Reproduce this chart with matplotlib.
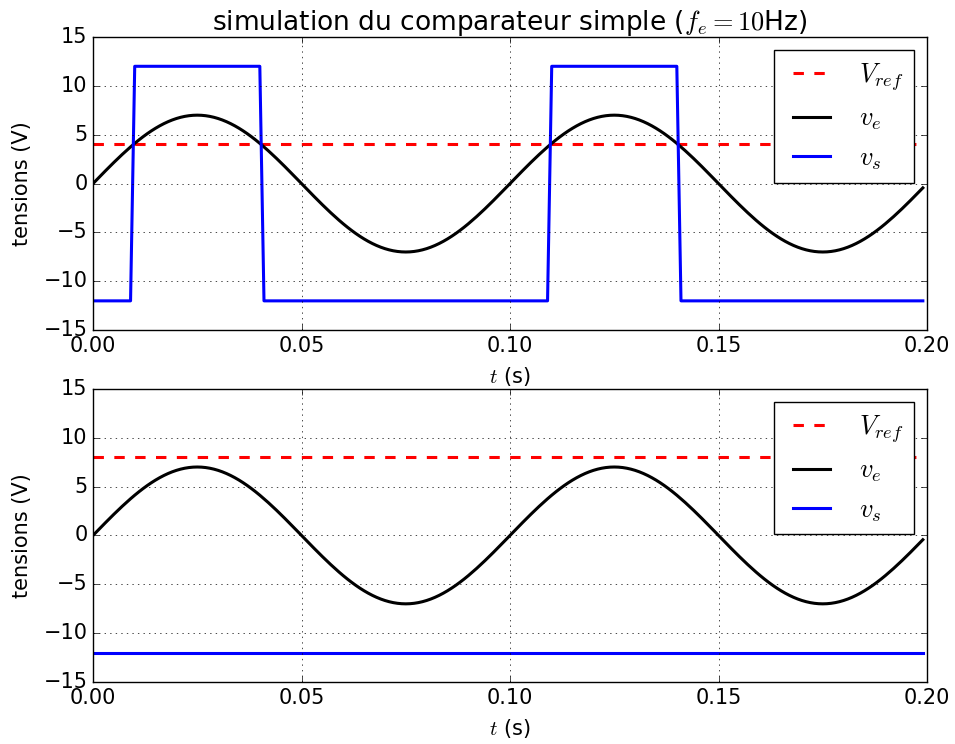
import numpy as np
import matplotlib
matplotlib.use("Agg")
import matplotlib.pyplot as plt

plt.style.use("classic")

# signal parameters
AMPLITUDE = 7.0        # V, peak of v_e
FREQ = 10.0            # Hz (title: f_e = 10 Hz)
T_STEP = 0.001         # s, sampling step (visible in the slanted edges of v_s)
T_END = 0.2            # s
VREF = [4.0, 8.0]      # V, reference for top / bottom panel
VSAT = 12.0            # V, output saturation

YTICKS = [-15, -10, -5, 0, 5, 10, 15]
XTICKS = [0.00, 0.05, 0.10, 0.15, 0.20]

t = np.arange(0, T_END, T_STEP)
ve = AMPLITUDE * np.sin(2 * np.pi * FREQ * t)

fig, axes = plt.subplots(2, 1, figsize=(9.55, 7.44), dpi=100, facecolor="white")
fig.subplots_adjust(left=0.0974, right=0.9707, top=0.9503, bottom=0.0833, hspace=0.2)

for ax, vref in zip(axes, VREF):
    vs = np.where(ve > vref, VSAT, -VSAT)
    ax.plot(t, np.full_like(t, vref), color="r", linestyle="--", dashes=(7.5, 7.5),
            linewidth=2.2, label=r"$V_{ref}$")
    ax.plot(t, ve, "k-", linewidth=2.2, label=r"$v_e$")
    ax.plot(t, vs, "b-", linewidth=2.2, label=r"$v_s$")
    ax.set_xlim(0, T_END)
    ax.set_ylim(-15, 15)
    ax.set_yticks(YTICKS)
    ax.set_xticks(XTICKS)
    ax.xaxis.set_major_formatter(matplotlib.ticker.FormatStrFormatter("%.2f"))
    ax.tick_params(labelsize=15)
    ax.grid(True)
    ax.set_xlabel(r"$t$ (s)", fontsize=15, labelpad=7)
    ax.set_ylabel("tensions (V)", fontsize=15, labelpad=8)
    ax.legend(loc="upper right", fontsize=19)

axes[0].set_title(r"simulation du comparateur simple ($f_e=10$Hz)", fontsize=19)

fig.savefig("out.png", dpi=100, facecolor="white")
